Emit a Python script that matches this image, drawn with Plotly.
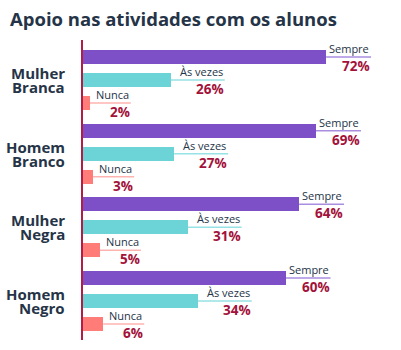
import plotly.graph_objects as go

title = "Apoio nas atividades com os alunos"
groups = [("Mulher", "Branca"), ("Homem", "Branco"), ("Mulher", "Negra"), ("Homem", "Negro")]
series = ["Sempre", "Às vezes", "Nunca"]
sempre = [72, 69, 64, 60]
as_vezes = [26, 27, 31, 34]
nunca = [2, 3, 5, 6]
values = [sempre, as_vezes, nunca]

bar_colors = ["#7e50c8", "#6cd3d6", "#ff7c78"]
line_colors = ["#a98ee0", "#97e2e4", "#ffb3b0"]
leader_px = [45, 54, 41]
GROUP_STEP = 3.2

fig = go.Figure()
for si, name in enumerate(series):
    ys = [g * GROUP_STEP + si for g in range(len(groups))]
    fig.add_trace(go.Bar(
        x=values[si], y=ys, orientation="h", width=0.6,
        marker=dict(color=bar_colors[si], line=dict(width=0)),
        name=name, showlegend=False, hoverinfo="skip",
    ))
    for g, v in enumerate(values[si]):
        y = g * GROUP_STEP + si
        fig.add_shape(type="line", xref="x", yref="y", xsizemode="pixel",
                      xanchor=v, x0=0, x1=leader_px[si], y0=y, y1=y,
                      line=dict(color=line_colors[si], width=1.5), layer="below")
        fig.add_annotation(x=v, y=y, text=name, showarrow=False,
                           xanchor="right", yanchor="bottom", xshift=leader_px[si], yshift=-1,
                           font=dict(family="Open Sans", size=11, color="#253447"))
        fig.add_annotation(x=v, y=y, text=f"<b>{v}%</b>", showarrow=False,
                           xanchor="right", yanchor="top", xshift=leader_px[si] + 1, yshift=2,
                           font=dict(family="Open Sans", size=13.5, color="#a3123a"))

for g, (l1, l2) in enumerate(groups):
    for line_text, shift in ((l1, 7), (l2, -7)):
        fig.add_annotation(x=0, y=g * GROUP_STEP + 1, xref="x", yref="y", text=f"<b>{line_text}</b>",
                           showarrow=False, xanchor="right", yanchor="middle", xshift=-16, yshift=shift,
                           font=dict(family="Open Sans", size=15, color="#253447"))

fig.update_layout(
    width=401, height=350,
    margin=dict(l=83, r=0, t=40, b=10),
    paper_bgcolor="white", plot_bgcolor="white",
    bargap=0,
    title=dict(text=f"<b>{title}</b>", x=0.025, xanchor="left", y=0.943, yanchor="middle",
               font=dict(family="Open Sans", size=18.5, color="#253447")),
    xaxis=dict(range=[0, 94.2], visible=False, fixedrange=True),
    yaxis=dict(range=[12.3, -0.74], showticklabels=False, showgrid=False, zeroline=False,
               showline=True, linecolor="#b01d45", linewidth=1.5, ticks="", fixedrange=True),
)
fig.write_html("out.html")
